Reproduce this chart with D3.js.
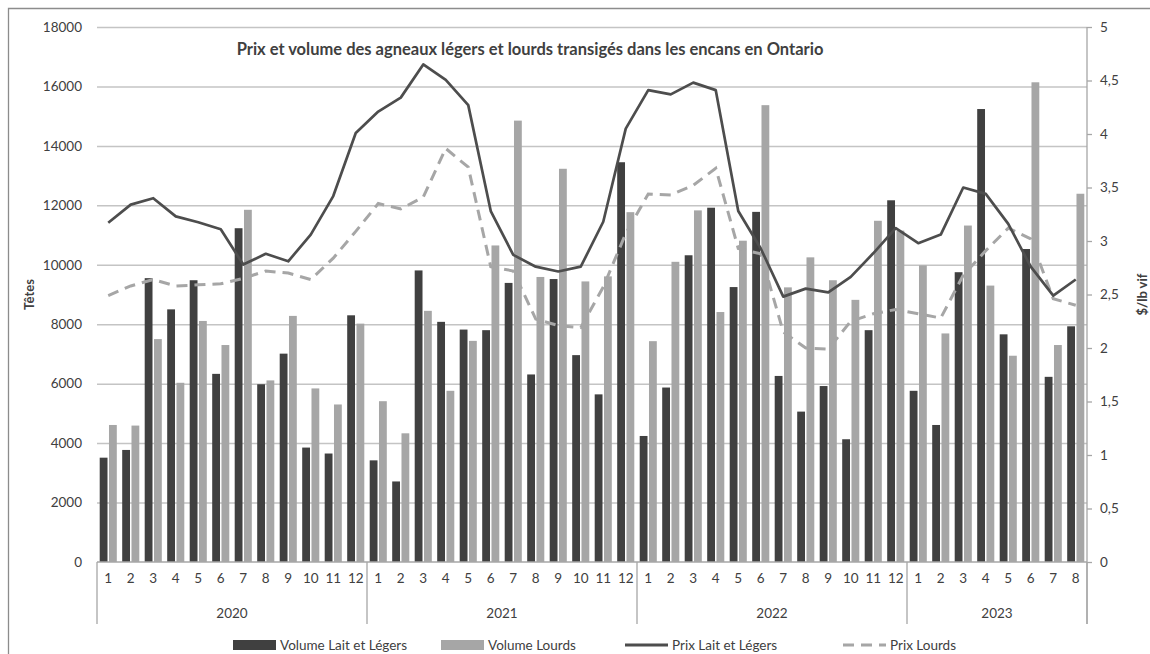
<!DOCTYPE html>
<html>
<head>
<meta charset="utf-8">
<script src="https://cdn.jsdelivr.net/npm/d3@7"></script>
<style>
  body { margin: 0; background: #fff; }
  text { font-family: Lato, "Open Sans", sans-serif; fill: #404040; }
</style>
</head>
<body>
<svg width="1150" height="654"></svg>
<script>
const years = ["2020", "2021", "2022", "2023"];
const monthsPerYear = [12, 12, 12, 8];

const volLegers = [
  3510, 3770, 9550, 8500, 9480, 6330, 11230, 5980, 7010, 3850, 3650, 8300,
  3420, 2710, 9810, 8080, 7820, 7800, 9390, 6310, 9520, 6960, 5640, 13450,
  4240, 5870, 10320, 11920, 9250, 11780, 6260, 5060, 5920, 4130, 7800, 12170,
  5760, 4610, 9750, 15240, 7660, 10530, 6230, 7930
];
const volLourds = [
  4610, 4590, 7500, 6030, 8110, 7300, 11850, 6110, 8280, 5840, 5300, 8020,
  5410, 4330, 8450, 5760, 7440, 10650, 14850, 9590, 13230, 9440, 9610, 11770,
  7430, 10100, 11830, 8410, 10810, 15370, 9240, 10250, 9480, 8820, 11480, 11150,
  9980, 7690, 11320, 9300, 6940, 16140, 7300, 12390
];
const prixLegers = [
  3.17, 3.34, 3.40, 3.23, 3.175, 3.11, 2.78, 2.88, 2.81, 3.06, 3.42, 4.01,
  4.21, 4.34, 4.65, 4.505, 4.27, 3.28, 2.87, 2.76, 2.715, 2.76, 3.18, 4.05,
  4.41, 4.37, 4.48, 4.41, 3.28, 2.93, 2.48, 2.555, 2.52, 2.665, 2.885, 3.12,
  2.98, 3.06, 3.50, 3.44, 3.16, 2.76, 2.49, 2.64
];
const prixLourds = [
  2.49, 2.58, 2.64, 2.58, 2.59, 2.60, 2.65, 2.72, 2.70, 2.64, 2.84, 3.09,
  3.35, 3.30, 3.41, 3.865, 3.69, 2.76, 2.72, 2.27, 2.21, 2.19, 2.57, 3.07,
  3.44, 3.43, 3.52, 3.68, 2.93, 2.88, 2.15, 2.00, 1.99, 2.25, 2.32, 2.36,
  2.32, 2.28, 2.68, 2.91, 3.12, 3.02, 2.46, 2.40
];
const leftTicks = d3.range(0, 18001, 2000);
const rightTicks = d3.range(0, 5.01, 0.5);

const svg = d3.select("svg");
const margin = { top: 27, left: 97, right: 63, bottom: 92 };
const width = +svg.attr("width");
const height = +svg.attr("height");
const innerWidth = width - margin.left - margin.right;
const innerHeight = height - margin.top - margin.bottom;

// month table
const months = [];
years.forEach((y, yi) => {
  for (let m = 1; m <= monthsPerYear[yi]; m++) months.push({ year: y, month: m });
});
months.forEach((d, i) => {
  d.key = i;
  d.legers = volLegers[i];
  d.lourds = volLourds[i];
  d.pLegers = prixLegers[i];
  d.pLourds = prixLourds[i];
});

// outer frame (only top and left edges fall inside the picture)
svg.append("path")
  .attr("d", "M8.5,654V8.5H1150")
  .attr("fill", "none").attr("stroke", "#8c8c8c").attr("stroke-width", 1.3);

const g = svg.append("g").attr("transform", `translate(${margin.left},${margin.top})`);

const x = d3.scaleBand()
  .domain(months.map((d) => d.key))
  .range([0, innerWidth])
  .paddingInner(0.24)
  .paddingOuter(0.12);
const xSub = d3.scaleBand()
  .domain(["legers", "lourds"])
  .range([0, x.bandwidth()])
  .paddingInner(0.16);
const yLeft = d3.scaleLinear().domain([0, 18000]).range([innerHeight, 0]);
const yRight = d3.scaleLinear().domain([0, 5]).range([innerHeight, 0]);

// gridlines + left labels
const yAxisG = g.append("g")
  .call(d3.axisLeft(yLeft).tickValues(leftTicks).tickSize(-innerWidth).tickPadding(15).tickFormat(d3.format("d")));
yAxisG.select(".domain").remove();
yAxisG.selectAll(".tick line").attr("stroke", "#c4c4c4").attr("stroke-width", 1.5)
  .filter((d) => d === 0).remove();
yAxisG.selectAll(".tick text").style("font-size", "13.5px").attr("fill", "#404040");

// bars
const groups = g.selectAll(".month")
  .data(months)
  .join("g")
  .attr("transform", (d) => `translate(${x(d.key)},0)`);
groups.append("rect")
  .attr("x", xSub("legers"))
  .attr("width", xSub.bandwidth())
  .attr("y", (d) => yLeft(d.legers))
  .attr("height", (d) => innerHeight - yLeft(d.legers))
  .attr("fill", "#404040");
groups.append("rect")
  .attr("x", xSub("lourds"))
  .attr("width", xSub.bandwidth())
  .attr("y", (d) => yLeft(d.lourds))
  .attr("height", (d) => innerHeight - yLeft(d.lourds))
  .attr("fill", "#a6a6a6");

// lines
const cx = (d) => x(d.key) + x.bandwidth() / 2;
g.append("path")
  .datum(months)
  .attr("fill", "none")
  .attr("stroke", "#a6a6a6")
  .attr("stroke-width", 3)
  .attr("stroke-dasharray", "11,7")
  .attr("d", d3.line().x(cx).y((d) => yRight(d.pLourds)));
g.append("path")
  .datum(months)
  .attr("fill", "none")
  .attr("stroke", "#4d4d4d")
  .attr("stroke-width", 2.7)
  .attr("stroke-linejoin", "round")
  .attr("d", d3.line().x(cx).y((d) => yRight(d.pLegers)));

// category axis
const axisColor = "#a6a6a6";
g.append("line")
  .attr("x1", 0).attr("x2", innerWidth)
  .attr("y1", innerHeight).attr("y2", innerHeight)
  .attr("stroke", axisColor).attr("stroke-width", 1.3);
g.selectAll(".month-label")
  .data(months)
  .join("text")
  .attr("x", cx)
  .attr("y", innerHeight + 21)
  .attr("text-anchor", "middle")
  .style("font-size", "13.5px")
  .text((d) => d.month);

let start = 0;
const yearSpans = years.map((y, yi) => {
  const first = start;
  start += monthsPerYear[yi];
  return { year: y, x0: x.step() * first, x1: x.step() * start };
});
const divX = [0].concat(yearSpans.map((s) => s.x1));
g.selectAll(".divider")
  .data(divX)
  .join("line")
  .attr("x1", (d) => d).attr("x2", (d) => d)
  .attr("y1", innerHeight).attr("y2", innerHeight + 62)
  .attr("stroke", axisColor).attr("stroke-width", 1.3);
g.selectAll(".year-label")
  .data(yearSpans)
  .join("text")
  .attr("x", (d) => (d.x0 + d.x1) / 2)
  .attr("y", innerHeight + 56)
  .attr("text-anchor", "middle")
  .style("font-size", "13.5px")
  .text((d) => d.year);

// right axis
const rAxisG = g.append("g")
  .attr("transform", `translate(${innerWidth},0)`)
  .call(d3.axisRight(yRight).tickValues(rightTicks).tickSize(5).tickPadding(8)
    .tickFormat((d) => d3.format("~g")(d).replace(".", ",")));
rAxisG.select(".domain").remove();
rAxisG.selectAll(".tick line").attr("stroke", axisColor).attr("stroke-width", 1.3);
rAxisG.selectAll(".tick text").style("font-size", "13.5px").attr("fill", "#404040");
g.append("line")
  .attr("x1", innerWidth).attr("x2", innerWidth)
  .attr("y1", 0).attr("y2", innerHeight + 62)
  .attr("stroke", axisColor).attr("stroke-width", 1.3);

// axis titles
svg.append("text")
  .attr("transform", `translate(34,${margin.top + innerHeight / 2}) rotate(-90)`)
  .attr("text-anchor", "middle")
  .style("font-size", "13px").style("font-weight", "bold")
  .attr("fill", "#222")
  .text("Têtes");
svg.append("text")
  .attr("transform", `translate(1147,${margin.top + innerHeight / 2}) rotate(-90)`)
  .attr("text-anchor", "middle")
  .style("font-size", "13px").style("font-weight", "bold")
  .attr("fill", "#222")
  .text("$/lb vif");

// title
svg.append("text")
  .attr("x", 530).attr("y", 55)
  .attr("text-anchor", "middle")
  .style("font-size", "16.5px").style("font-weight", "bold")
  .attr("fill", "#1a1a1a")
  .text("Prix et volume des agneaux légers et lourds transigés dans les encans en Ontario");

// legend
const legendItems = [
  { label: "Volume Lait et Légers", type: "bar", color: "#404040", x: 233 },
  { label: "Volume Lourds", type: "bar", color: "#a6a6a6", x: 441 },
  { label: "Prix Lait et Légers", type: "line", color: "#4d4d4d", x: 625 },
  { label: "Prix Lourds", type: "dash", color: "#a6a6a6", x: 843 }
];
const legend = svg.append("g").attr("transform", "translate(0,645)");
const li = legend.selectAll("g").data(legendItems).join("g")
  .attr("transform", (d) => `translate(${d.x},0)`);
li.filter((d) => d.type === "bar").append("rect")
  .attr("x", 0).attr("y", -5).attr("width", 43).attr("height", 10)
  .attr("fill", (d) => d.color);
li.filter((d) => d.type !== "bar").append("line")
  .attr("x1", 0).attr("x2", 43).attr("y1", 0).attr("y2", 0)
  .attr("stroke", (d) => d.color)
  .attr("stroke-width", 3)
  .attr("stroke-dasharray", (d) => (d.type === "dash" ? "11,7" : null));
li.append("text")
  .attr("x", 47).attr("y", 5)
  .style("font-size", "13.5px")
  .text((d) => d.label);
</script>
</body>
</html>
